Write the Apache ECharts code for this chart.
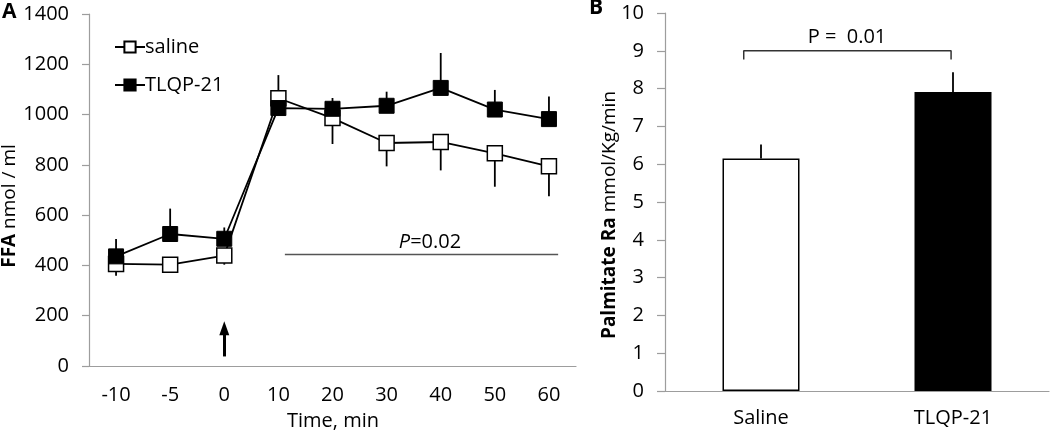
<!DOCTYPE html>
<html>
<head>
<meta charset="utf-8">
<script src="https://cdn.jsdelivr.net/npm/echarts@6/dist/echarts.min.js"></script>
<style>html,body{margin:0;padding:0;background:#fff}#c{width:1050px;height:432px}</style>
</head>
<body>
<div id="c"></div>
<script>
// ---- Panel A data ----
const timeCats = ['-10', '-5', '0', '10', '20', '30', '40', '50', '60'];
const salineFFA = [406, 403, 439, 1065, 986, 887, 891, 846, 794];
const salineErr = [47, 31, 36, 92, 103, 93, 113, 133, 119];
const salineErrDir = [-1, -1, -1, 1, -1, -1, -1, -1, -1];
const tlqpFFA = [436, 525, 506, 1026, 1023, 1035, 1106, 1020, 982];
const tlqpErr = [69, 101, 45, 40, 43, 56, 139, 78, 90];
const tlqpErrDir = [1, 1, 1, 1, 1, 1, 1, 1, 1];
const pLineX = [3.62, 8.67];      // span of the P=0.02 line in category-index units
const pLineY = 443;
const arrowX = 2.5;               // category "0"
const arrowY = [38, 150];
// ---- Panel B data ----
const groups = ['Saline', 'TLQP-21'];
const palmRa = [6.15, 7.91];
const palmErr = [0.37, 0.52];
const bracketX = [0.41, 1.49];
const bracketY = [8.77, 9.0];

const FONT = 'Open Sans';
const FS = 20;
const AX = '#9d9d9d';

function errData(vals, errs, dirs) {
  return vals.map((v, i) => [i, v, v + dirs[i] * errs[i]]);
}
function errRender(params, api) {
  const p0 = api.coord([api.value(0), api.value(1)]);
  const p1 = api.coord([api.value(0), api.value(2)]);
  return { type: 'line', shape: { x1: p0[0], y1: p0[1], x2: p1[0], y2: p1[1] },
           style: { stroke: '#000', lineWidth: 1.8 } };
}

const chart = echarts.init(document.getElementById('c'), null, { renderer: 'canvas' });
const option = {
  animation: false,
  textStyle: { fontFamily: FONT },
  grid: [
    { left: 89, right: 474, top: 14, bottom: 66 },
    { left: 665, right: 1, top: 13, bottom: 41 }
  ],
  xAxis: [
    { type: 'category', gridIndex: 0, data: timeCats, boundaryGap: true,
      axisLine: { lineStyle: { color: AX, width: 1.2 } },
      axisTick: { length: 6, lineStyle: { color: AX, width: 1.2 } },
      axisLabel: { color: '#000', fontSize: FS, margin: 19, fontFamily: FONT } },
    { type: 'value', gridIndex: 0, min: 0, max: 9, show: false },
    { type: 'category', gridIndex: 1, data: groups, boundaryGap: true,
      axisLine: { lineStyle: { color: AX, width: 1.2 } },
      axisTick: { length: 6, lineStyle: { color: AX, width: 1.2 } },
      axisLabel: { color: '#000', fontSize: FS, margin: 17, fontFamily: FONT } },
    { type: 'value', gridIndex: 1, min: 0, max: 2, show: false }
  ],
  yAxis: [
    { type: 'value', gridIndex: 0, min: 0, max: 1400, interval: 200,
      splitLine: { show: false },
      axisLine: { show: true, lineStyle: { color: AX, width: 1.2 } },
      axisTick: { show: true, length: 7, lineStyle: { color: AX, width: 1.2 } },
      axisLabel: { color: '#000', fontSize: FS, margin: 20, fontFamily: FONT, formatter: v => String(v) } },
    { type: 'value', gridIndex: 1, min: 0, max: 10, interval: 1,
      splitLine: { show: false },
      axisLine: { show: true, lineStyle: { color: AX, width: 1.2 } },
      axisTick: { show: true, length: 8, lineStyle: { color: AX, width: 1.2 } },
      axisLabel: { color: '#000', fontSize: FS, margin: 21, fontFamily: FONT } }
  ],
  legend: {
    data: ['saline', 'TLQP-21'], orient: 'vertical', left: 109, top: 32,
    itemWidth: 30, itemHeight: 14, itemGap: 18,
    textStyle: { fontSize: FS, color: '#000', fontFamily: FONT, padding: [0, 0, 0, -5] }
  },
  series: [
    { type: 'custom', name: 'salineErr', xAxisIndex: 0, yAxisIndex: 0, z: 1,
      renderItem: errRender, data: errData(salineFFA, salineErr, salineErrDir), silent: true },
    { type: 'custom', name: 'tlqpErr', xAxisIndex: 0, yAxisIndex: 0, z: 1,
      renderItem: errRender, data: errData(tlqpFFA, tlqpErr, tlqpErrDir), silent: true },
    { type: 'line', name: 'saline', xAxisIndex: 0, yAxisIndex: 0, z: 2, data: salineFFA,
      symbol: 'rect', symbolSize: 15, showAllSymbol: true,
      lineStyle: { color: '#000', width: 1.8 },
      itemStyle: { color: '#fff', borderColor: '#000', borderWidth: 1.5 } },
    { type: 'line', name: 'TLQP-21', xAxisIndex: 0, yAxisIndex: 0, z: 3, data: tlqpFFA,
      symbol: 'rect', symbolSize: 15, showAllSymbol: true,
      lineStyle: { color: '#000', width: 1.8 },
      itemStyle: { color: '#000', borderColor: '#000', borderWidth: 1 } },
    { type: 'line', name: 'pline', xAxisIndex: 1, yAxisIndex: 0, z: 1, symbol: 'none',
      data: pLineX.map(x => [x, pLineY]), lineStyle: { color: '#555', width: 1.5 }, silent: true },
    { type: 'line', name: 'arrow', xAxisIndex: 1, yAxisIndex: 0, z: 1, symbol: 'none',
      data: [], silent: true,
      markLine: { silent: true, symbol: ['none', 'triangle'], symbolSize: [10, 14], label: { show: false },
        lineStyle: { color: '#000', width: 3, type: 'solid' },
        data: [[{ coord: [arrowX, arrowY[0]] }, { coord: [arrowX, arrowY[1]] }]] } },
    // Panel B
    { type: 'bar', name: 'palm', xAxisIndex: 2, yAxisIndex: 1, z: 2, barWidth: 77,
      data: palmRa.map((v, i) => ({ value: v, itemStyle: { color: i === 0 ? '#fff' : '#000' } })),
      itemStyle: { borderColor: '#000', borderWidth: 1.5 } },
    { type: 'custom', name: 'palmErr', xAxisIndex: 2, yAxisIndex: 1, z: 1,
      renderItem: errRender, data: errData(palmRa, palmErr, [1, 1]), silent: true },
    { type: 'line', name: 'bracket', xAxisIndex: 3, yAxisIndex: 1, symbol: 'none', silent: true,
      data: [[bracketX[0], bracketY[0]], [bracketX[0], bracketY[1]], [bracketX[1], bracketY[1]], [bracketX[1], bracketY[0]]],
      lineStyle: { color: '#333', width: 1.5 } }
  ],
  graphic: [
    { type: 'text', left: 2, top: 2, style: { text: 'A', font: 'bold 21px "Open Sans"', fill: '#000' } },
    { type: 'text', left: 589, top: -2, style: { text: 'B', font: 'bold 21px "Open Sans"', fill: '#000' } },
    { type: 'text', x: 10, y: 206, rotation: Math.PI / 2,
      style: { text: '{b|FFA} nmol / ml', align: 'center', verticalAlign: 'middle', fill: '#000',
        font: '19px "Open Sans"',
        rich: { b: { fontWeight: 'bold', fontSize: 19, fontFamily: FONT } } } },
    { type: 'text', x: 610, y: 215, rotation: Math.PI / 2,
      style: { text: '{b|Palmitate Ra} mmol/Kg/min', align: 'center', verticalAlign: 'middle', fill: '#000',
        font: '19px "Open Sans"',
        rich: { b: { fontWeight: 'bold', fontSize: 19, fontFamily: FONT } } } },
    { type: 'text', x: 430, y: 242,
      style: { text: '{i|P}=0.02', align: 'center', verticalAlign: 'middle', fill: '#000',
        font: FS + 'px "Open Sans"', rich: { i: { fontStyle: 'italic', fontSize: FS, fontFamily: FONT } } } },
    { type: 'text', x: 847, y: 37,
      style: { text: 'P =  0.01', align: 'center', verticalAlign: 'middle', fill: '#000',
        font: FS + 'px "Open Sans"' } },
    { type: 'text', x: 333, y: 421,
      style: { text: 'Time, min', align: 'center', verticalAlign: 'middle', fill: '#000',
        font: FS + 'px "Open Sans"' } }
  ]
};
chart.setOption(option);
</script>
</body>
</html>
